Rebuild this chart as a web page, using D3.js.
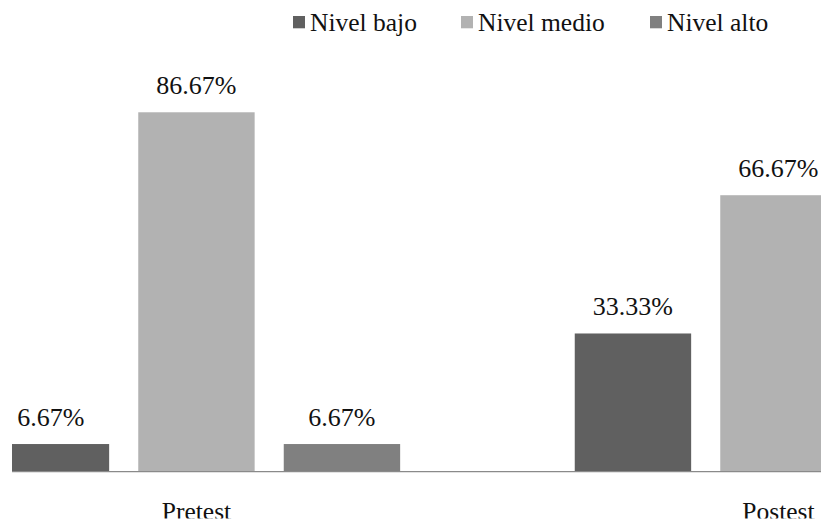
<!DOCTYPE html>
<html>
<head>
<meta charset="utf-8">
<script src="https://cdn.jsdelivr.net/npm/d3@7"></script>
<style>
  body { margin: 0; }
</style>
</head>
<body>
<svg id="chart" width="821" height="525"></svg>
<script>
// Test phases and performance levels
const groups = ["Pretest", "Postest"];
const levels = ["Nivel bajo", "Nivel medio", "Nivel alto"];
// Percentage of students per level, one array per phase
const pretestValues = [6.67, 86.67, 6.67];
const postestValues = [33.33, 66.67, 0];
const levelColors = ["#606060", "#b2b2b2", "#808080"];

const W = 821, H = 525;
const svg = d3.select("#chart");

const cells = [];
groups.forEach((g, i) => {
  (i === 0 ? pretestValues : postestValues).forEach((v, j) => {
    cells.push({ group: g, level: levels[j], value: v });
  });
});
const shown = cells.filter(d => d.value > 0);

const plotLeft = 12, baseY = 471.7;

const x0 = d3.scaleBand().domain(groups).range([-94.55, 1069.45])
  .paddingInner(0.3).paddingOuter(0.15);
const x1 = d3.scaleBand().domain(levels).range([0, x0.bandwidth()])
  .paddingInner(0.2).paddingOuter(0);
const y = d3.scaleLinear().domain([0, 100]).range([baseY, 57]);
const color = d3.scaleOrdinal().domain(levels).range(levelColors);
const barX = d => x0(d.group) + x1(d.level);

// Serif text labels
function addText(data, x, yPos, size, anchor, txt) {
  return svg.selectAll(null).data(data).enter().append("text")
    .attr("x", x).attr("y", yPos)
    .attr("text-anchor", anchor)
    .attr("fill", "#111")
    .style("font-family", '"Liberation Serif", "Times New Roman", serif', "important")
    .style("font-size", size + "px", "important")
    .text(txt);
}

// Bars (the plot area starts at x = 12, so the first bar is cut there)
svg.selectAll(null).data(shown).enter().append("rect")
  .attr("x", d => Math.max(plotLeft, barX(d)))
  .attr("y", d => y(d.value))
  .attr("width", d => Math.min(W, barX(d) + x1.bandwidth()) - Math.max(plotLeft, barX(d)))
  .attr("height", d => y(0) - y(d.value))
  .attr("fill", d => color(d.level));

// Baseline axis
svg.append("line")
  .attr("x1", plotLeft).attr("x2", W)
  .attr("y1", y(0)).attr("y2", y(0))
  .attr("stroke", "#8a8a8a").attr("stroke-width", 1.2);

// Value labels
addText(shown, d => barX(d) + x1.bandwidth() / 2, d => y(d.value) - 18, 26, "middle",
  d => d.value.toFixed(2) + "%");

// Category labels
addText(groups, d => x0(d) + x0.bandwidth() / 2, 519.6, 25.5, "middle", d => d);
// White strip trimming the bottom of the category labels
svg.append("rect").attr("x", 0).attr("y", 518.5).attr("width", W).attr("height", H - 518.5)
  .attr("fill", "#ffffff");

// Legend
const legendX = [293, 461, 650];
svg.selectAll(null).data(levels).enter().append("rect")
  .attr("x", (d, i) => legendX[i]).attr("y", 16)
  .attr("width", 12).attr("height", 12.3)
  .attr("fill", d => color(d));
addText(levels, (d, i) => legendX[i] + 17, 31, 25.5, "start", d => d);
</script>
</body>
</html>
